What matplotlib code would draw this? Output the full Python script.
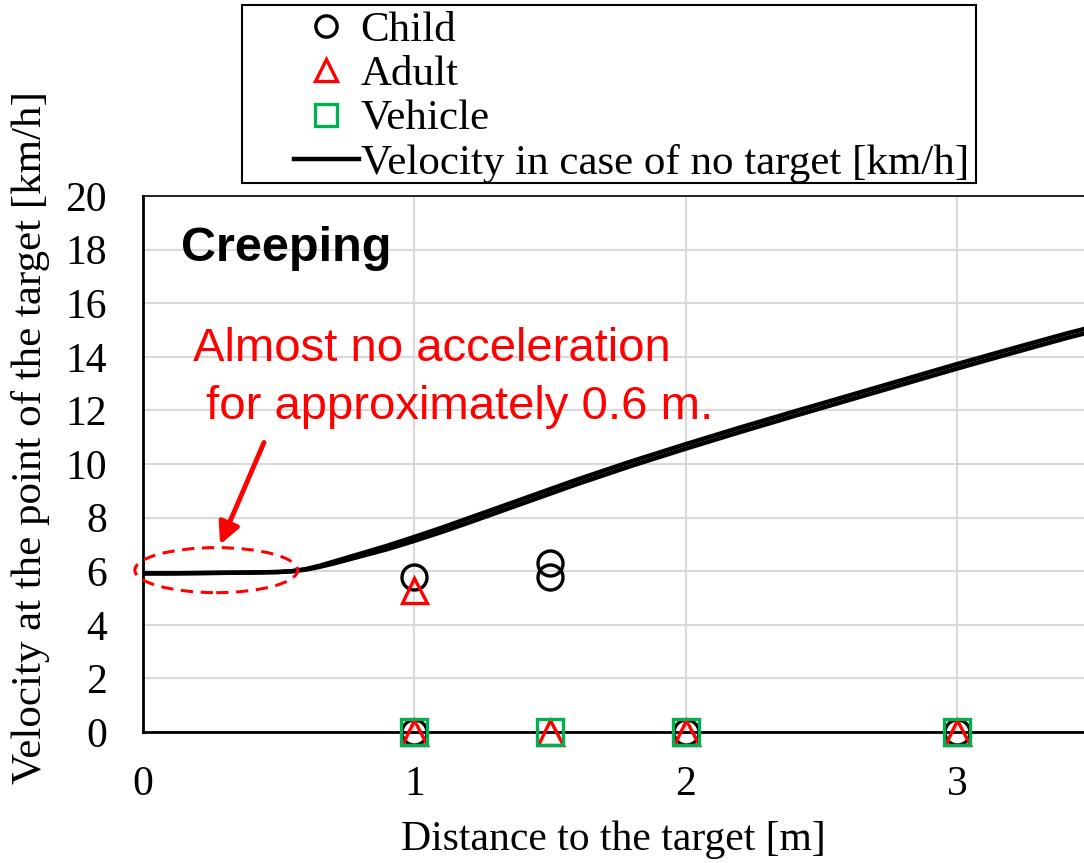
import matplotlib.pyplot as plt
from matplotlib.patches import Ellipse, Rectangle

# velocity without target (two runs, almost overlapping)
dist = [0.0, 0.1, 0.2, 0.3, 0.4, 0.5, 0.55, 0.6, 0.65, 0.7, 0.8, 0.9, 1.0,
        1.1, 1.2, 1.3, 1.4, 1.5, 1.6, 1.7, 1.8, 1.9, 2.0, 2.2, 2.4, 2.6, 2.8,
        3.0, 3.2, 3.4, 3.5]
vel_run1 = [5.92, 5.92, 5.93, 5.94, 5.95, 5.97, 6.0, 6.08, 6.2, 6.35, 6.65,
            6.95, 7.28, 7.62, 7.98, 8.34, 8.7, 9.06, 9.42, 9.76, 10.1, 10.42,
            10.74, 11.36, 11.96, 12.55, 13.14, 13.73, 14.3, 14.86, 15.12]
vel_run2 = [5.92, 5.92, 5.93, 5.94, 5.95, 5.97, 6.0, 6.06, 6.16, 6.28, 6.55,
            6.82, 7.13, 7.46, 7.81, 8.17, 8.53, 8.89, 9.25, 9.59, 9.93, 10.25,
            10.57, 11.19, 11.79, 12.38, 12.97, 13.56, 14.13, 14.69, 14.95]

child_x = [1, 1.5, 1.5, 1, 2, 3]
child_y = [5.8, 6.3, 5.8, 0, 0, 0]
adult_x = [1, 1, 1.5, 2, 3]
adult_y = [5.3, 0, 0, 0, 0]
vehicle_x = [1, 1.5, 2, 3]
vehicle_y = [0, 0, 0, 0]

serif = 'Liberation Serif'
sans = 'Liberation Sans'
green = '#00B050'

fig = plt.figure(figsize=(10.84, 8.63), dpi=100)
ax = fig.add_axes([143 / 1084, 1 - 732 / 863, 941 / 1084, 536 / 863])

ax.grid(True, color='#d9d9d9', linewidth=1.5, zorder=0)
ax.set_axisbelow(True)

ax.plot(dist, vel_run1, color='black', linewidth=3.2, zorder=3)
ax.plot(dist, vel_run2, color='black', linewidth=3.2, zorder=3,
        label='Velocity in case of no target [km/h]')

ax.plot(child_x, child_y, 'o', markersize=18, markerfacecolor='none',
        markeredgecolor='black', markeredgewidth=2.4, zorder=4,
        clip_on=False, label='Child')
ax.plot(adult_x, adult_y, '^', markersize=18, markerfacecolor='none',
        markeredgecolor='red', markeredgewidth=2.4, zorder=5,
        clip_on=False, label='Adult')
ax.plot(vehicle_x, vehicle_y, 's', markersize=19, markerfacecolor='none',
        markeredgecolor=green, markeredgewidth=2.4, zorder=6,
        clip_on=False, label='Vehicle')

ax.set_xlim(0, 3.468)
ax.set_ylim(0, 20)
ax.set_xticks([0, 1, 2, 3])
ax.set_yticks(range(0, 21, 2))
ax.tick_params(length=0, labelsize=30)
ax.tick_params(axis='y', pad=26)
ax.tick_params(axis='x', pad=24)
for lab in ax.get_xticklabels() + ax.get_yticklabels():
    lab.set_family(serif)

for s in ['left', 'bottom']:
    ax.spines[s].set_linewidth(2)
    ax.spines[s].set_zorder(2)
ax.spines['top'].set_linewidth(1.2)
ax.spines['right'].set_visible(False)

ax.set_xlabel('Distance to the target [m]', fontsize=30, family=serif, labelpad=12)
ax.set_ylabel('Velocity at the point of the target [km/h]', fontsize=31,
              family=serif)
ax.yaxis.set_label_coords(-0.099, 0.55)

ax.text(0.14, 18.05, 'Creeping', fontsize=35, fontweight='bold', family=sans,
        va='center', ha='left')
ax.text(0.184, 13.2, 'Almost no acceleration\n for approximately 0.6 m.',
        fontsize=34, color='red', family=sans, ha='left', va='center',
        linespacing=1.4)

ax.add_patch(Ellipse((0.27, 6.04), 0.6, 1.68, fill=False, edgecolor='red',
                     linestyle=(0, (4, 2.5)), linewidth=2.2, zorder=4,
                     clip_on=False))
ax.annotate('', xy=(0.28, 6.9), xytext=(0.45, 10.9),
            arrowprops=dict(arrowstyle='-|>', color='red', lw=3.5,
                            mutation_scale=32))

# legend box
fig.patches.append(Rectangle((242 / 1084, 1 - 183 / 863), 734 / 1084, 178 / 863,
                             transform=fig.transFigure, fill=False,
                             edgecolor='black', linewidth=1.5))
handles, labels = ax.get_legend_handles_labels()
order = [1, 2, 3, 0]
fig.legend([handles[i] for i in order], [labels[i] for i in order],
           loc='upper left', bbox_to_anchor=(294 / 1084, 1 - 11 / 863),
           frameon=False, prop={'family': serif, 'size': 31},
           handlelength=1.5, handletextpad=0.05, labelspacing=0.12,
           borderpad=0.0, borderaxespad=0, markerscale=0.85)

fig.savefig('out.png', dpi=100)
